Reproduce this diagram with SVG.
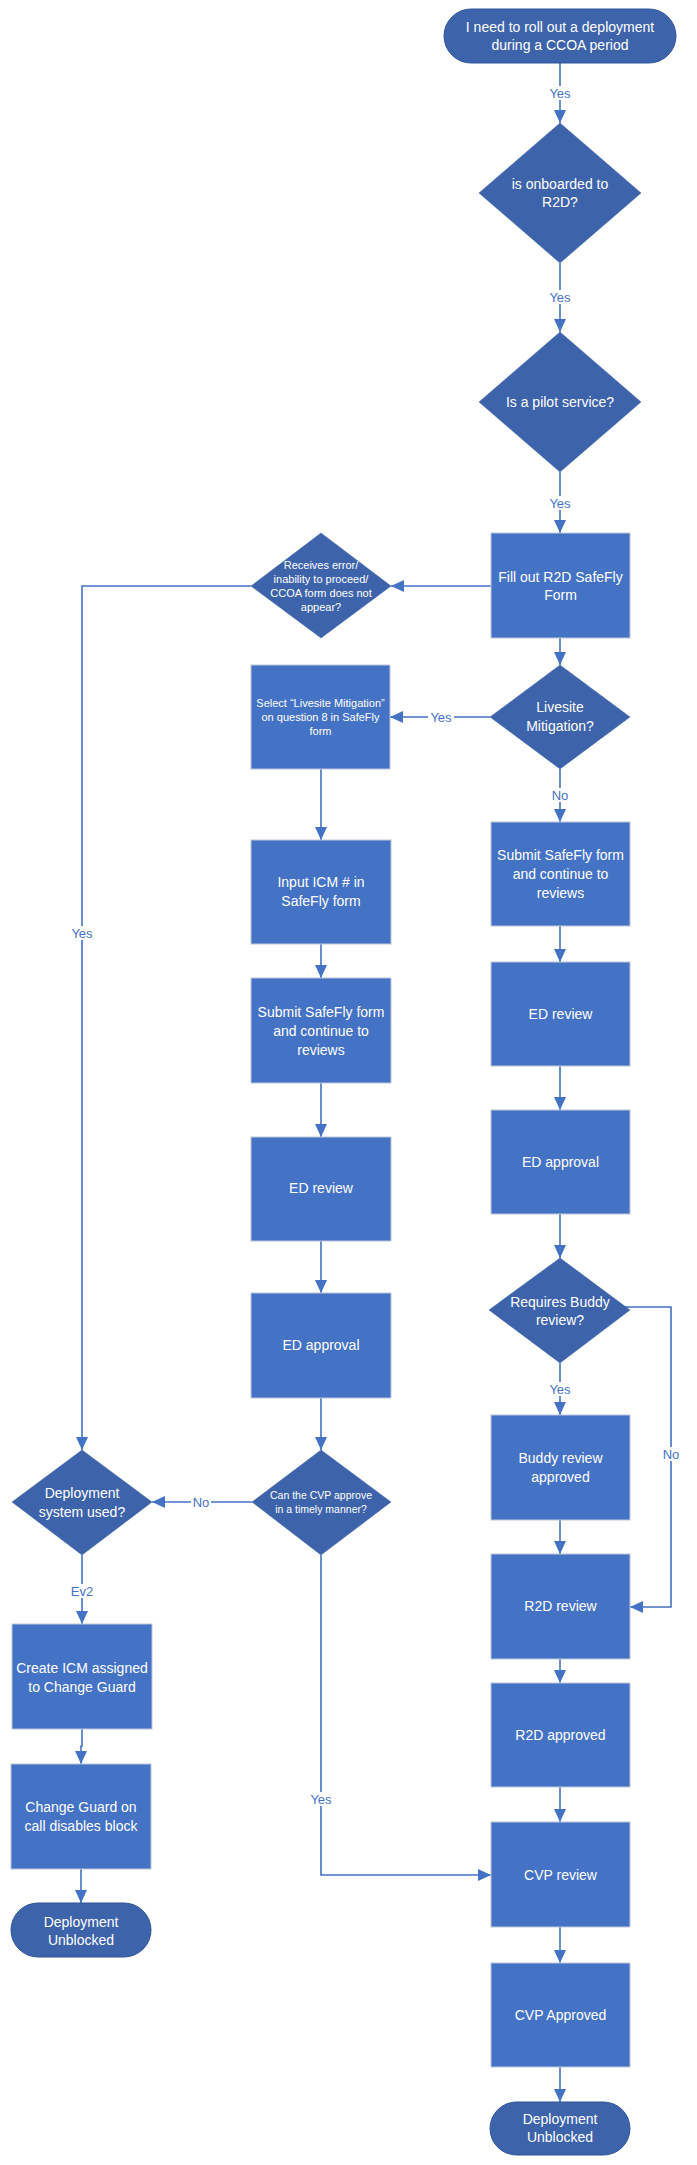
<svg xmlns="http://www.w3.org/2000/svg" width="697" height="2165" viewBox="0 0 697 2165">
<style>
.box{fill:#4472C4;stroke:#BCC6D9;stroke-width:1}
.dec{fill:#3D63AB;stroke:#3D63AB;stroke-width:0.5}
.term{fill:#3D63AB;stroke:#2F5597;stroke-width:1}
.t{font-family:"Liberation Sans",Arial,sans-serif;font-size:14px;fill:#FFFFFF;text-anchor:middle;dominant-baseline:central}
.s{font-size:11px}
.xs{font-size:10.5px}
.c{fill:none;stroke:#4472C4;stroke-width:1.6}
.lb{font-family:"Liberation Sans",Arial,sans-serif;font-size:13px;fill:#4472C4;text-anchor:middle;dominant-baseline:central}
.bg{fill:#FFFFFF}
</style>
<defs>
<marker id="ah" markerUnits="userSpaceOnUse" markerWidth="13" markerHeight="12" refX="13" refY="6" orient="auto">
<path d="M0,0 L13,6 L0,12 Z" fill="#4472C4"/>
</marker>
</defs>
<rect width="697" height="2165" fill="#FFFFFF"/>

<g id="connectors">
<path class="c" d="M560,63 V123" marker-end="url(#ah)"/>
<path class="c" d="M560,263 V332" marker-end="url(#ah)"/>
<path class="c" d="M560,472 V533" marker-end="url(#ah)"/>
<path class="c" d="M491,586 H391" marker-end="url(#ah)"/>
<path class="c" d="M251,586 H82 V1450" marker-end="url(#ah)"/>
<path class="c" d="M560,638 V665" marker-end="url(#ah)"/>
<path class="c" d="M490,717 H390" marker-end="url(#ah)"/>
<path class="c" d="M560,769 V822" marker-end="url(#ah)"/>
<path class="c" d="M321,769 V840" marker-end="url(#ah)"/>
<path class="c" d="M321,944 V978" marker-end="url(#ah)"/>
<path class="c" d="M321,1083 V1137" marker-end="url(#ah)"/>
<path class="c" d="M321,1241 V1293" marker-end="url(#ah)"/>
<path class="c" d="M321,1398 V1450" marker-end="url(#ah)"/>
<path class="c" d="M252,1502 H152" marker-end="url(#ah)"/>
<path class="c" d="M321,1555 V1875 H491" marker-end="url(#ah)"/>
<path class="c" d="M82,1555 V1624" marker-end="url(#ah)"/>
<path class="c" d="M82,1729 V1746 H81 V1764" marker-end="url(#ah)"/>
<path class="c" d="M81,1869 V1903" marker-end="url(#ah)"/>
<path class="c" d="M560,926 V962" marker-end="url(#ah)"/>
<path class="c" d="M560,1066 V1110" marker-end="url(#ah)"/>
<path class="c" d="M560,1214 V1258" marker-end="url(#ah)"/>
<path class="c" d="M560,1363 V1415" marker-end="url(#ah)"/>
<path class="c" d="M624,1307 H671 V1607 H630" marker-end="url(#ah)"/>
<path class="c" d="M560,1520 V1554" marker-end="url(#ah)"/>
<path class="c" d="M560,1659 V1683" marker-end="url(#ah)"/>
<path class="c" d="M560,1787 V1822" marker-end="url(#ah)"/>
<path class="c" d="M560,1927 V1963" marker-end="url(#ah)"/>
<path class="c" d="M560,2067 V2102" marker-end="url(#ah)"/>

<rect class="bg" x="547" y="86" width="26" height="14"/><text class="lb" x="560" y="93">Yes</text>
<rect class="bg" x="547" y="290" width="26" height="14"/><text class="lb" x="560" y="297">Yes</text>
<rect class="bg" x="547" y="496" width="26" height="14"/><text class="lb" x="560" y="503">Yes</text>
<rect class="bg" x="69" y="926" width="26" height="14"/><text class="lb" x="82" y="933">Yes</text>
<rect class="bg" x="428" y="710" width="26" height="14"/><text class="lb" x="441" y="717">Yes</text>
<rect class="bg" x="550" y="788" width="20" height="14"/><text class="lb" x="560" y="795">No</text>
<rect class="bg" x="191" y="1495" width="20" height="14"/><text class="lb" x="201" y="1502">No</text>
<rect class="bg" x="308" y="1792" width="26" height="14"/><text class="lb" x="321" y="1799">Yes</text>
<rect class="bg" x="69" y="1584" width="26" height="14"/><text class="lb" x="82" y="1591">Ev2</text>
<rect class="bg" x="547" y="1382" width="26" height="14"/><text class="lb" x="560" y="1389">Yes</text>
<rect class="bg" x="661" y="1447" width="20" height="14"/><text class="lb" x="671" y="1454">No</text>
</g>

<g id="start">
<rect class="term" x="444" y="9" width="232" height="54" rx="27"/>
<text class="t" x="560" y="27">I need to roll out a deployment</text>
<text class="t" x="560" y="45">during a CCOA period</text>
</g>
<g id="onboarded">
<polygon class="dec" points="560,123 641,193 560,263 479,193"/>
<text class="t" x="560" y="184">is onboarded to</text>
<text class="t" x="560" y="202">R2D?</text>
</g>
<g id="pilot">
<polygon class="dec" points="560,332 641,402 560,472 479,402"/>
<text class="t" x="560" y="402">Is a pilot service?</text>
</g>
<g id="fill-form">
<rect class="box" x="491" y="533" width="139" height="105"/>
<text class="t" x="560.5" y="577">Fill out R2D SafeFly</text>
<text class="t" x="560.5" y="595">Form</text>
</g>
<g id="receives-error">
<polygon class="dec" points="321,533 391,586 321,638 251,586"/>
<text class="t s" x="321" y="565">Receives error/</text>
<text class="t s" x="321" y="579">inability to proceed/</text>
<text class="t s" x="321" y="593">CCOA form does not</text>
<text class="t s" x="321" y="607">appear?</text>
</g>
<g id="livesite">
<polygon class="dec" points="560,665 630,717 560,769 490,717"/>
<text class="t" x="560" y="707">Livesite</text>
<text class="t" x="560" y="726">Mitigation?</text>
</g>
<g id="select-livesite">
<rect class="box" x="251" y="665" width="139" height="104"/>
<text class="t s" x="320.5" y="703">Select “Livesite Mitigation”</text>
<text class="t s" x="320.5" y="717">on question 8 in SafeFly</text>
<text class="t s" x="320.5" y="731">form</text>
</g>
<g id="input-icm">
<rect class="box" x="251" y="840" width="140" height="104"/>
<text class="t" x="321" y="882">Input ICM # in</text>
<text class="t" x="321" y="901">SafeFly form</text>
</g>
<g id="submit-left">
<rect class="box" x="251" y="978" width="140" height="105"/>
<text class="t" x="321" y="1012">Submit SafeFly form</text>
<text class="t" x="321" y="1031">and continue to</text>
<text class="t" x="321" y="1050">reviews</text>
</g>
<g id="ed-review-left">
<rect class="box" x="251" y="1137" width="140" height="104"/>
<text class="t" x="321" y="1188">ED review</text>
</g>
<g id="ed-approval-left">
<rect class="box" x="251" y="1293" width="140" height="105"/>
<text class="t" x="321" y="1345">ED approval</text>
</g>
<g id="cvp-timely">
<polygon class="dec" points="321,1450 391,1502 321,1555 252,1502"/>
<text class="t xs" x="321" y="1495">Can the CVP approve</text>
<text class="t xs" x="321" y="1509">in a timely manner?</text>
</g>
<g id="deploy-system">
<polygon class="dec" points="82,1450 152,1502 82,1555 12,1502"/>
<text class="t" x="82" y="1493">Deployment</text>
<text class="t" x="82" y="1512">system used?</text>
</g>
<g id="create-icm">
<rect class="box" x="12" y="1624" width="140" height="105"/>
<text class="t" x="82" y="1668">Create ICM assigned</text>
<text class="t" x="82" y="1687">to Change Guard</text>
</g>
<g id="change-guard">
<rect class="box" x="11" y="1764" width="140" height="105"/>
<text class="t" x="81" y="1807">Change Guard on</text>
<text class="t" x="81" y="1826">call disables block</text>
</g>
<g id="unblocked-left">
<rect class="term" x="11" y="1903" width="140" height="54" rx="27"/>
<text class="t" x="81" y="1922">Deployment</text>
<text class="t" x="81" y="1940">Unblocked</text>
</g>
<g id="submit-right">
<rect class="box" x="491" y="822" width="139" height="104"/>
<text class="t" x="560.5" y="855">Submit SafeFly form</text>
<text class="t" x="560.5" y="874">and continue to</text>
<text class="t" x="560.5" y="893">reviews</text>
</g>
<g id="ed-review-right">
<rect class="box" x="491" y="962" width="139" height="104"/>
<text class="t" x="560.5" y="1014">ED review</text>
</g>
<g id="ed-approval-right">
<rect class="box" x="491" y="1110" width="139" height="104"/>
<text class="t" x="560.5" y="1162">ED approval</text>
</g>
<g id="buddy-decision">
<polygon class="dec" points="560,1258 630,1310 560,1363 489,1310"/>
<text class="t" x="560" y="1302">Requires Buddy</text>
<text class="t" x="560" y="1320">review?</text>
</g>
<g id="buddy-approved">
<rect class="box" x="491" y="1415" width="139" height="105"/>
<text class="t" x="560.5" y="1458">Buddy review</text>
<text class="t" x="560.5" y="1477">approved</text>
</g>
<g id="r2d-review">
<rect class="box" x="491" y="1554" width="139" height="105"/>
<text class="t" x="560.5" y="1606">R2D review</text>
</g>
<g id="r2d-approved">
<rect class="box" x="491" y="1683" width="139" height="104"/>
<text class="t" x="560.5" y="1735">R2D approved</text>
</g>
<g id="cvp-review">
<rect class="box" x="491" y="1822" width="139" height="105"/>
<text class="t" x="560.5" y="1875">CVP review</text>
</g>
<g id="cvp-approved">
<rect class="box" x="491" y="1963" width="139" height="104"/>
<text class="t" x="560.5" y="2015">CVP Approved</text>
</g>
<g id="unblocked-right">
<rect class="term" x="490" y="2102" width="140" height="53" rx="26.5"/>
<text class="t" x="560" y="2119">Deployment</text>
<text class="t" x="560" y="2137">Unblocked</text>
</g>
</svg>
